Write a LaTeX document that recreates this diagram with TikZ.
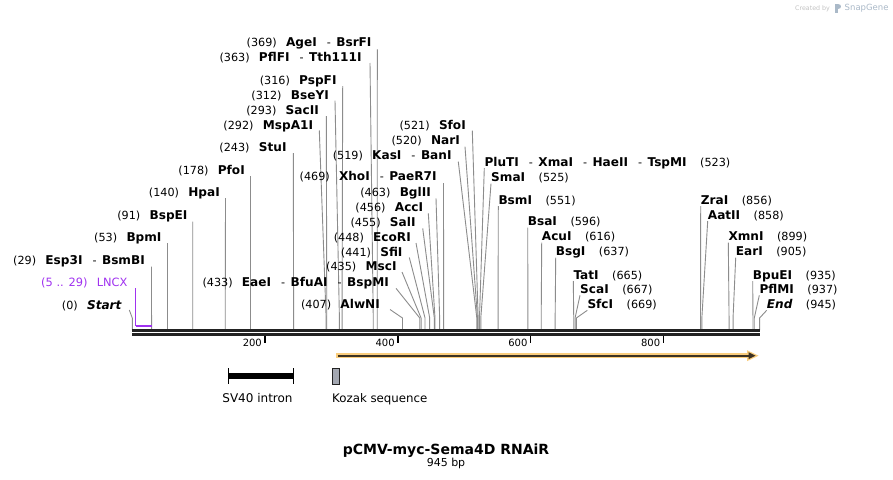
\documentclass[tikz,border=0pt]{standalone}
\usepackage{fontspec}
\setmainfont{DejaVu Sans}
\definecolor{leadc}{RGB}{140,140,140}
\definecolor{mapc}{RGB}{34,34,34}
\definecolor{lncx}{RGB}{160,50,240}
\definecolor{halo}{RGB}{250,205,125}
\definecolor{arrowc}{RGB}{60,50,35}
\definecolor{kozak}{RGB}{163,167,177}
\definecolor{wm}{RGB}{195,195,195}
\definecolor{wmlogo}{RGB}{170,185,200}
\newcommand{\fs}[1]{\fontsize{#1pt}{#1pt}\selectfont}
\newcommand{\B}[1]{{\fs{12.1}\bfseries #1}}
\newcommand{\dsh}{\hspace{10pt}-\hspace{5.5pt}}
\newcommand{\gp}{\hspace{9.3pt}}
\newcommand{\gr}{\hspace{13.5pt}}
\tikzset{
  lab/.style={font=\fs{11.2}, inner sep=0pt, text=black},
  leader/.style={draw=leadc, line width=0.9pt},
  mapline/.style={draw=mapc, line width=2.4pt},
  tickmark/.style={draw=black, line width=1.6pt},
  ticklab/.style={font=\fs{10}, inner sep=0pt, anchor=base east},
}
\newcommand{\LL}[7]{%
  \node[lab,anchor=base east] (n#1) at (#3,#4) {#2};
  \coordinate (a#1) at (#5,#6);
  \coordinate (k#1) at ({132.3+0.6638*#7},318);
  \coordinate (s#1) at ({132.3+0.6638*#7},330);
  \draw[leader] (a#1) -- (k#1) -- (s#1);}
\newcommand{\RL}[5]{%
  \node[lab,anchor=base west] (n#1) at (#3,#4) {#2};
  \coordinate (a#1) at (#3,{#4+2});
  \coordinate (k#1) at ({132.3+0.6638*#5},318);
  \coordinate (s#1) at ({132.3+0.6638*#5},330);
  \draw[leader] (a#1) -- (k#1) -- (s#1);}
\begin{document}
\begin{tikzpicture}[x=1pt,y=-1pt]
\useasboundingbox (0,0) rectangle (893,479);
\fill[white] (0,0) rectangle (893,479);

% watermark
\node[font=\fs{6.3}, text=wm, inner sep=0, anchor=base west] (wm1) at (795,10) {Created by};
\fill[wmlogo] (835,3.5) rectangle (837.5,12.5);
\fill[wmlogo] (837.5,3.5) .. controls (842,3.5) and (842,9) .. (837.5,9) -- cycle;
\node[font=\fs{8.5}, text=wmlogo, inner sep=0, anchor=base west] (wm2) at (844.5,10.5) {SnapGene};

% left labels
\LL{369}{(369)\gp\B{AgeI}\dsh\B{BsrFI}}{371.7}{46.5}{377.3}{49.3}{369}
\LL{363}{(363)\gp\B{PflFI}\dsh\B{Tth111I}}{361.7}{61.5}{370}{63}{363}
\LL{316}{(316)\gp\B{PspFI}}{336.7}{84}{342.7}{86}{316}
\LL{312}{(312)\gp\B{BseYI}}{329}{99}{335}{100.7}{312}
\LL{293}{(293)\gp\B{SacII}}{319}{114}{326.3}{116}{293}
\LL{292}{(292)\gp\B{MspA1I}}{313.3}{129}{319.3}{130.5}{292}
\LL{243}{(243)\gp\B{StuI}}{286.7}{151}{293.3}{153}{243}
\LL{178}{(178)\gp\B{PfoI}}{245}{174}{250.5}{176}{178}
\LL{140}{(140)\gp\B{HpaI}}{220}{196}{225.5}{198}{140}
\LL{91}{(91)\gp\B{BspEI}}{187.7}{219}{192.7}{221.5}{91}
\LL{53}{(53)\gp\B{BpmI}}{161.7}{241.5}{167.5}{243}{53}
\LL{29}{(29)\gp\B{Esp3I}\dsh\B{BsmBI}}{145}{264}{151.5}{266.5}{29}
\LL{0}{(0)\gp\B{\itshape Start}}{121.7}{309}{129.3}{310}{0}
\LL{433}{(433)\gp\B{EaeI}\dsh\B{BfuAI}\dsh\B{BspMI}}{389}{286}{396}{288.3}{433}
\LL{407}{(407)\gp\B{AlwNI}}{380}{308.5}{390}{309.5}{407}
\LL{435}{(435)\gp\B{MscI}}{396.7}{270.5}{402}{272}{435}
\LL{441}{(441)\gp\B{SfiI}}{402.7}{256}{409.3}{257.5}{441}
\LL{448}{(448)\gp\B{EcoRI}}{411}{241.7}{416}{243}{448}
\LL{455}{(455)\gp\B{SalI}}{415.7}{226.7}{422.7}{228.3}{455}
\LL{456}{(456)\gp\B{AccI}}{423.3}{211.7}{428.3}{213.3}{456}
\LL{463}{(463)\gp\B{BglII}}{431}{196.7}{436}{198.3}{463}
\LL{469}{(469)\gp\B{XhoI}\dsh\B{PaeR7I}}{436.7}{180.7}{443.5}{183}{469}
\LL{519}{(519)\gp\B{KasI}\dsh\B{BanI}}{451.7}{159}{458.3}{161.7}{519}
\LL{520}{(520)\gp\B{NarI}}{460}{144}{465}{146.7}{520}
\LL{521}{(521)\gp\B{SfoI}}{466}{129}{472.3}{130.7}{521}

% right labels
\RL{523}{\B{PluTI}\dsh\B{XmaI}\dsh\B{HaeII}\dsh\B{TspMI}\gr(523)}{484.3}{166}{523}
\RL{525}{\B{SmaI}\gr(525)}{491}{181.7}{525}
\RL{551}{\B{BsmI}\gr(551)}{498.3}{204}{551}
\RL{596}{\B{BsaI}\gr(596)}{527.7}{225.7}{596}
\RL{616}{\B{AcuI}\gr(616)}{541.7}{240.7}{616}
\RL{637}{\B{BsgI}\gr(637)}{555.7}{255.7}{637}
\RL{665}{\B{TatI}\gr(665)}{573.3}{279}{665}
\RL{667}{\B{ScaI}\gr(667)}{580}{293.3}{667}
\RL{669}{\B{SfcI}\gr(669)}{587.3}{308.3}{669}
\RL{856}{\B{ZraI}\gr(856)}{700.7}{204}{856}
\RL{858}{\B{AatII}\gr(858)}{707.7}{219}{858}
\RL{899}{\B{XmnI}\gr(899)}{728.3}{240.7}{899}
\RL{905}{\B{EarI}\gr(905)}{735.7}{255.7}{905}
\RL{935}{\B{BpuEI}\gr(935)}{752.7}{279}{935}
\RL{937}{\B{PflMI}\gr(937)}{759.3}{293.3}{937}
\RL{945}{\B{\itshape End}\gr(945)}{766.7}{308.3}{945}

% LNCX feature
\node[lab, font=\fs{11.4}, text=lncx, anchor=base east] (nL) at (127.7,286) {(5 .. 29)\gp LNCX};
\coordinate (aL) at (135.6,288);
\coordinate (fL) at (135.6,325.6);
\coordinate (gL) at (151.5,325.6);
\draw[draw=lncx, line width=1.3pt] (aL) -- (fL);
\draw[draw=lncx, line width=2pt] (fL) -- (gL);

% map
\draw[mapline] (132.3,330.5) -- (759.6,330.5);
\draw[mapline] (132.3,334.5) -- (759.6,334.5);
\foreach \v in {200,400,600,800} {
  \draw[tickmark] ({132.3+0.6638*\v},335.5) -- ({132.3+0.6638*\v},342.5);
  \node[ticklab] (t\v) at ({132.3+0.6638*\v-3},346.5) {\v};
}

% orange feature arrow
\draw[draw=halo, line width=5.5pt] (336,355.7) -- (750,355.7);
\fill[halo] (747,350.2) -- (758.5,355.7) -- (747,361.2) -- cycle;
\draw[draw=arrowc, line width=1.6pt] (337.8,355.7) -- (750,355.7);
\fill[arrowc] (748.5,352.2) -- (755.5,355.7) -- (748.5,359.2) -- cycle;

% SV40 intron
\draw[black, line width=5.5pt] (228.3,376.2) -- (293.3,376.2);
\draw[black, line width=1.6pt] (228.3,368.3) -- (228.3,384);
\draw[black, line width=1.6pt] (293.3,368.3) -- (293.3,384);
\node[font=\fs{12}, inner sep=0, anchor=base] (sv40) at (257.5,402) {SV40 intron};

% Kozak
\filldraw[fill=kozak, draw=mapc, line width=0.8pt] (332.5,368.5) rectangle (339.3,384);
\node[font=\fs{11.8}, inner sep=0, anchor=base west] (koz) at (332,402) {Kozak sequence};

% title
\node[font=\fs{14}\bfseries, inner sep=0, anchor=base] (title) at (446,454) {pCMV-myc-Sema4D RNAiR};
\node[font=\fs{11}, inner sep=0, anchor=base] (len) at (446,466.7) {945 bp};
\end{tikzpicture}
\end{document}
